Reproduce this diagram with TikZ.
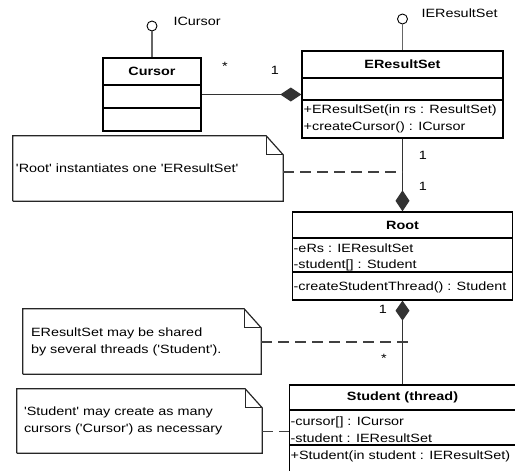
\documentclass[tikz,border=0pt]{standalone}
\usepackage{fontspec}
\setmainfont{Liberation Sans}[FakeStretch=1.2,Ligatures=TeXOff]
\usetikzlibrary{arrows.meta,calc}
\tikzset{
  cls/.style={draw,line width=1.3pt,inner sep=0pt},
  sep/.style={line width=1.3pt},
  iface/.style={circle,draw,line width=0.9pt,inner sep=0pt,minimum size=10pt},
  stem/.style={draw=black!60,line width=1.2pt},
  link/.style={draw=black!80,line width=1.2pt},
  comp/.style={-{Diamond[length=21pt,width=14pt]}},
  member/.style={anchor=west,inner sep=0pt},
  mult/.style={inner sep=0pt},
  notebox/.style={inner ysep=0pt,align=left},
  notepath/.style={draw=black!85,line width=1.2pt},
  dashline/.style={draw=black!75,line width=1.2pt,dash pattern=on 11pt off 6pt},
}
\newcommand{\dogear}[1]{%
  \draw[notepath] (#1.south west) |- ([xshift=-17pt]#1.north east)
     -- ([yshift=-19pt]#1.north east) |- (#1.south west);
  \draw[notepath] ([xshift=-17pt]#1.north east) |- ([yshift=-19pt]#1.north east);}

\begin{document}
\begin{tikzpicture}[x=1pt,y=-1pt,font=\fontsize{12}{17}\selectfont]
\useasboundingbox (0,0) rectangle (515,471);
\clip (0,0) rectangle (515,471);

% classes
\node[cls,minimum width=98pt,minimum height=73pt] (cursor) at (152,94.5) {};
\draw[sep] (103,85)--(201,85) (103,108)--(201,108);
\node at (152,71.5) {\bfseries Cursor};

\node[cls,minimum width=201pt,minimum height=87pt] (eres) at (402.5,94.5) {};
\draw[sep] (302,78)--(503,78) (302,100)--(503,100);
\node at (402.5,64.5) {\bfseries EResultSet};
\node[member] at (303.5,110.5) {+EResultSet(in rs : ResultSet)};
\node[member] at (303.5,127) {+createCursor() : ICursor};

\node[cls,minimum width=220pt,minimum height=88pt] (root) at (402.5,256) {};
\draw[sep] (292.5,238)--(512.5,238) (292.5,272)--(512.5,272);
\node at (402.5,225) {\bfseries Root};
\node[member] at (293.5,248) {-eRs : IEResultSet};
\node[member] at (293.5,265) {-student[] : Student};
\node[member] at (293.5,287) {-createStudentThread() : Student};

\node[cls,minimum width=226pt,minimum height=93pt] (student) at (402.5,431.5) {};
\draw[sep] (289.5,410)--(515.5,410) (289.5,445)--(515.5,445);
\node at (402.5,397.5) {\bfseries Student (thread)};
\node[member] at (290.5,422) {-cursor[] : ICursor};
\node[member] at (290.5,438.5) {-student : IEResultSet};
\node[member] at (290.5,456) {+Student(in student : IEResultSet)};

% interfaces
\node[iface] (icursor) at (152,26) {};
\draw[stem] (icursor) -- (cursor);
\node[anchor=west] at (170,21) {ICursor};
\node[iface] (ieres) at (402.5,19) {};
\draw[stem] (ieres) -- (eres);
\node[anchor=west] at (418,13) {IEResultSet};

% associations
\draw[link,comp] (cursor) -- (eres);
\node[mult] at (225,66) {*};
\node[mult] at (275,70) {1};
\draw[link,comp] (eres) -- (root);
\node[mult] at (423,155) {1};
\node[mult] at (423,186) {1};
\draw[link,{Diamond[length=20pt,width=14pt]}-] (root) -- (student);
\node[mult] at (383,309) {1};
\node[mult] at (384,358) {*};

% notes
\node[notebox,text width=264pt,inner xsep=3pt,minimum height=65pt] (n1) at (148,168.5)
  {'Root' instantiates one 'EResultSet'};
\dogear{n1}
\coordinate (d1) at (402.5,172);
\draw[dashline] (n1.east |- d1) -- (d1);

\node[notebox,text width=222pt,inner xsep=8pt,minimum height=65pt] (n2) at (142,341.5)
  {EResultSet may be shared\\by several threads ('Student').};
\dogear{n2}
\coordinate (d2) at (412,342);
\draw[dashline] (n2.east |- d2) -- (d2);

\node[notebox,text width=231pt,inner xsep=7pt,minimum height=64pt] (n3) at (139.5,421)
  {'Student' may create as many\\cursors ('Cursor') as necessary};
\dogear{n3}
\draw[dashline] (n3.east |- student.west) -- (student.west);
\end{tikzpicture}
\end{document}
